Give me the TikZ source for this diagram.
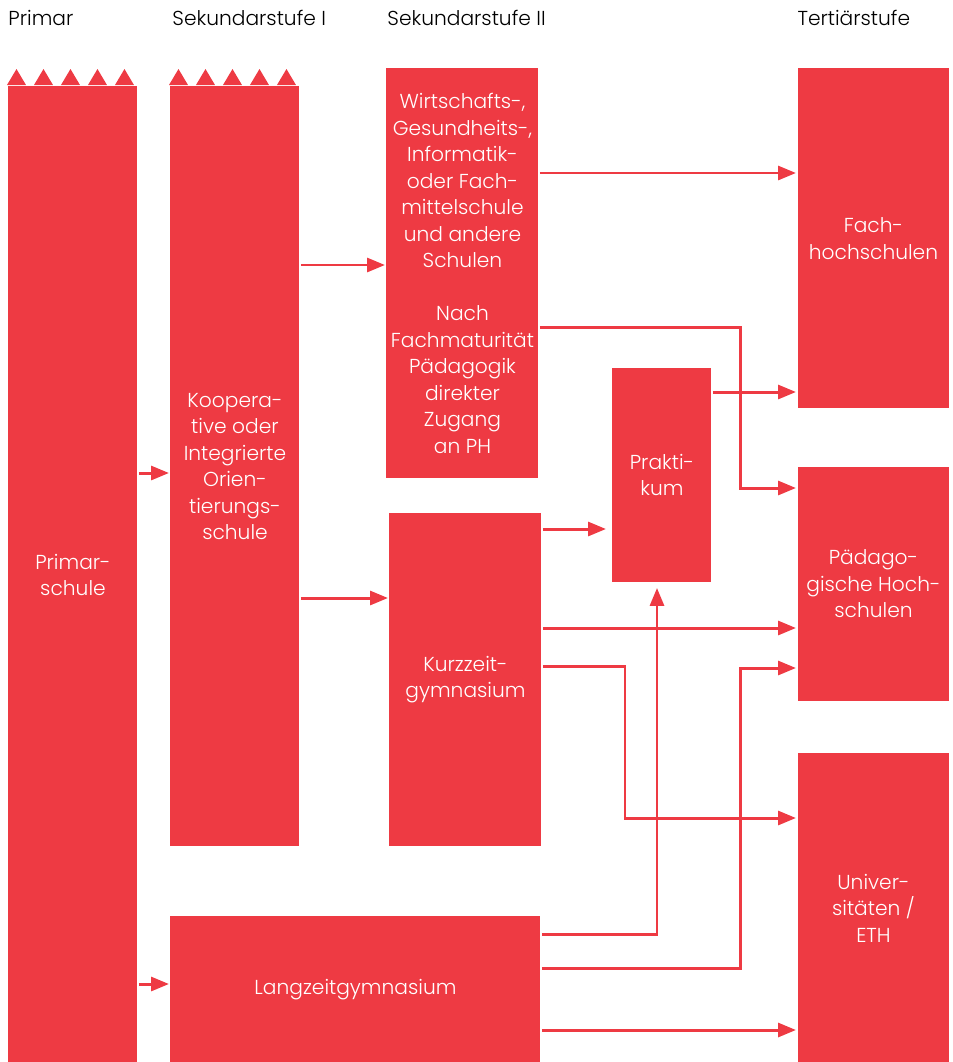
\documentclass[tikz,border=0pt]{standalone}
\usepackage{fontspec}
\setmainfont{Poppins}[UprightFont=* Light]
\usetikzlibrary{arrows.meta}
\definecolor{bsred}{HTML}{EE3A43}

\begin{document}
\begin{tikzpicture}[x=0.02cm, y=-0.02cm, line width=1.7pt, >={Triangle[length=0.36cm,width=0.28cm]},
    box/.style={fill=bsred, draw=none, text=white, align=center, anchor=north west, inner sep=0pt,
        font=\fontsize{11.5}{15.1}\selectfont},
    head/.style={anchor=base west, inner sep=0pt, font=\fontsize{11.5}{15.1}\selectfont},
    arr/.style={->, draw=bsred}]
    \useasboundingbox (0,0) rectangle (953,1062);
    % headings
    \node[head] (h1) at (7,25) {Primar};
    \node[head] (h2) at (171,25) {Sekundarstufe I};
    \node[head] (h3) at (386,25) {Sekundarstufe II};
    \node[head] (h4) at (796,25) {Tertiärstufe};
    % boxes
    \node[box, minimum width=2.58cm, minimum height=19.54cm] (prim) at (7,85) {Primar-\\schule};
    \node[box, minimum width=2.58cm, minimum height=15.2cm] (koop) at (169,85) {Koopera-\\tive oder\\Integrierte\\Orien-\\tierungs-\\schule};
    \node[box, minimum width=7.4cm, minimum height=2.96cm] (lang) at (169,914) {Langzeitgymnasium};
    \node[box, minimum width=3.04cm, minimum height=8.2cm] (wirt) at (385,67) {Wirtschafts-,\\Gesundheits-,\\Informatik-\\oder Fach-\\mittelschule\\und andere\\Schulen\\[15.1pt]Nach\\Fachmaturität\\Pädagogik\\direkter\\Zugang\\an PH};
    \node[box, minimum width=3.04cm, minimum height=6.68cm] (kurz) at (388,511) {Kurzzeit-\\gymnasium};
    \node[box, minimum width=1.98cm, minimum height=4.3cm] (prak) at (611,366) {Prakti-\\kum};
    \node[box, minimum width=3.04cm, minimum height=6.8cm] (fh) at (796,67) {Fach-\\hochschulen};
    \node[box, minimum width=3.04cm, minimum height=4.7cm] (ph) at (796,465) {Pädago-\\gische Hoch-\\schulen};
    \node[box, minimum width=3.04cm, minimum height=6.22cm] (uni) at (796,751) {Univer-\\sitäten /\\ETH};
    % torn tops
    \foreach \b in {prim,koop}
        \foreach \i in {0,...,4}
            \fill[bsred] ([xshift=\i*0.54cm]\b.north west) -- ++(9.5,-16) -- ++(9.5,16) -- cycle;
    % connectors
    \draw[arr] (prim.east |- 0,473) -- (koop.west |- 0,473);
    \draw[arr] (prim.east |- 0,984) -- (lang.west |- 0,984);
    \draw[arr] (koop.east |- 0,265) -- (wirt.west |- 0,265);
    \draw[arr] (koop.east |- 0,598) -- (kurz.west |- 0,598);
    \draw[arr] (wirt.east |- 0,173) -- (fh.west |- 0,173);
    \draw[arr] (wirt.east |- 0,327) -| (740,488) -- (ph.west |- 0,488);
    \draw[arr] (prak.east |- 0,392) -- (fh.west |- 0,392);
    \draw[arr, shorten >=5*0.02cm] (kurz.east |- 0,529) -- (prak.west |- 0,529);
    \draw[arr] (kurz.east |- 0,628) -- (ph.west |- 0,628);
    \draw[arr] (kurz.east |- 0,666) -| (625,818) -- (uni.west |- 0,818);
    \draw[arr, shorten >=4*0.02cm] (lang.east |- 0,934) -| (prak.south -| 657,0);
    \draw[arr] (lang.east |- 0,968) -| (740,668) -- (ph.west |- 0,668);
    \draw[arr] (lang.east |- 0,1030) -- (uni.west |- 0,1030);
\end{tikzpicture}
\end{document}
